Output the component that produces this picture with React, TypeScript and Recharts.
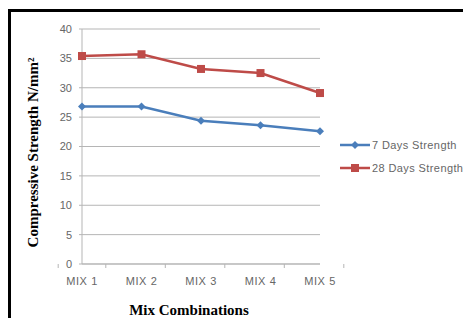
import { LineChart, Line, XAxis, YAxis, CartesianGrid, Legend } from 'recharts';

const mixes = ['MIX 1', 'MIX 2', 'MIX 3', 'MIX 4', 'MIX 5'];
const sevenDays = [26.8, 26.8, 24.4, 23.6, 22.6];
const twentyEightDays = [35.4, 35.7, 33.2, 32.5, 29.1];
const yTicks = [0, 5, 10, 15, 20, 25, 30, 35, 40];

const data = mixes.map((mix, i) => ({
  mix,
  seven: sevenDays[i],
  twentyEight: twentyEightDays[i],
}));

const BLUE = '#4a7ebb';
const RED = '#be4b48';
const GRID = '#b5b5b5';
const TEXT = '#666666';
const SANS = "'Liberation Sans', Arial, sans-serif";
const SERIF = "'Liberation Serif', 'Times New Roman', serif";

const plotWidth = 238;
const halfBand = plotWidth / mixes.length / 2;

const Diamond = (props: any) => {
  const { cx, cy, fill } = props;
  if (cx == null || cy == null) return null;
  const r = 4;
  return (
    <polygon
      points={`${cx},${cy - r} ${cx + r},${cy} ${cx},${cy + r} ${cx - r},${cy}`}
      fill={fill}
    />
  );
};

const Square = (props: any) => {
  const { cx, cy, fill } = props;
  if (cx == null || cy == null) return null;
  return <rect x={cx - 4} y={cy - 4} width={8} height={8} fill={fill} />;
};

const MixTick = (props: any) => {
  const { x, y, payload, index } = props;
  return (
    <g>
      {index === 0 && (
        <line x1={x - halfBand} x2={x - halfBand} y1={y} y2={y + 4} stroke={GRID} />
      )}
      <line x1={x + halfBand} x2={x + halfBand} y1={y} y2={y + 4} stroke={GRID} />
      <text
        x={x}
        y={y + 21}
        textAnchor="middle"
        fill={TEXT}
        fontSize={11}
        letterSpacing={0.6}
        fontFamily={SANS}
      >
        {payload.value}
      </text>
    </g>
  );
};

const XTitle = (props: any) => {
  const { x, y, width } = props.viewBox;
  return (
    <text
      x={x + width / 2 - 12}
      y={y + 46}
      textAnchor="middle"
      dominantBaseline="central"
      fontSize={15}
      fontWeight="bold"
      fontFamily={SERIF}
      fill="#000"
    >
      Mix Combinations
    </text>
  );
};

const YTitle = (props: any) => {
  const { x, y, height } = props.viewBox;
  const cx = x + 22;
  const cy = y + height / 2 + 6;
  return (
    <text
      x={cx}
      y={cy}
      transform={`rotate(-90, ${cx}, ${cy})`}
      textAnchor="middle"
      dominantBaseline="central"
      fontSize={15}
      fontWeight="bold"
      fontFamily={SERIF}
      fill="#000"
    >
      Compressive Strength N/mm²
    </text>
  );
};

const legendItems = [
  { label: '7 Days Strength', color: BLUE, shape: 'diamond' },
  { label: '28 Days Strength', color: RED, shape: 'square' },
];

const LegendContent = () => (
  <div style={{ fontFamily: SANS, fontSize: 11, letterSpacing: 0.4, color: TEXT, whiteSpace: 'nowrap' }}>
    {legendItems.map((item) => (
      <div key={item.label} style={{ display: 'flex', alignItems: 'center', height: 23 }}>
        <svg width={30} height={10} style={{ marginRight: 2, flex: 'none' }}>
          <line x1={0} x2={30} y1={5} y2={5} stroke={item.color} strokeWidth={2.5} />
          {item.shape === 'diamond' ? (
            <polygon points="15,1 19,5 15,9 11,5" fill={item.color} />
          ) : (
            <rect x={11} y={1} width={8} height={8} fill={item.color} />
          )}
        </svg>
        <span>{item.label}</span>
      </div>
    ))}
  </div>
);

export default function App() {
  return (
    <div
      style={{
        position: 'absolute',
        left: 8,
        top: 9,
        width: 452,
        height: 306,
        borderTop: '3px solid #000',
        borderLeft: '3px solid #000',
        overflow: 'hidden',
        background: '#fff',
      }}
    >
      <style>{'html, body { overflow: hidden; }'}</style>
      <LineChart
        width={452}
        height={306}
        data={data}
        margin={{ top: 17, right: 143, bottom: 0, left: 0 }}
      >
        <CartesianGrid vertical={false} stroke={GRID} />
        <XAxis
          dataKey="mix"
          height={54}
          stroke={GRID}
          tickLine={false}
          tickSize={0}
          tickMargin={0}
          tick={<MixTick />}
          interval={0}
          label={<XTitle />}
        />
        <YAxis
          width={71}
          domain={[0, 40]}
          ticks={yTicks}
          stroke={GRID}
          tickSize={3}
          tickMargin={7}
          tick={{ fill: TEXT, fontSize: 11, fontFamily: SANS }}
          label={<YTitle />}
        />
        <Legend
          layout="vertical"
          align="center"
          verticalAlign="middle"
          wrapperStyle={{ left: 329, top: 121, width: 123 }}
          content={<LegendContent />}
        />
        <Line
          dataKey="seven"
          name="7 Days Strength"
          stroke={BLUE}
          strokeWidth={2.5}
          dot={<Diamond fill={BLUE} />}
          activeDot={false}
          isAnimationActive={false}
        />
        <Line
          dataKey="twentyEight"
          name="28 Days Strength"
          stroke={RED}
          strokeWidth={2.5}
          dot={<Square fill={RED} />}
          activeDot={false}
          isAnimationActive={false}
        />
      </LineChart>
    </div>
  );
}
